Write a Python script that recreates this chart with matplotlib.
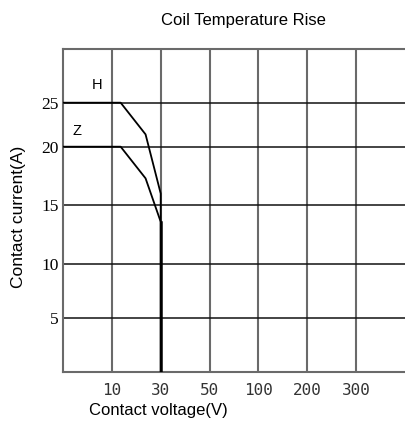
import numpy as np
import matplotlib.pyplot as plt

# contact voltage (V) / contact current (A) curves
h_volt = [0, 13.6, 23.8, 30, 30]
h_curr = [25, 25, 21.4, 16.0, 0]
z_volt = [0, 13.6, 23.8, 30, 30]
z_curr = [20, 20, 17.3, 13.6, 0]

x_ticks = [10, 30, 50, 100, 200, 300]
y_ticks = [5, 10, 15, 20, 25]

# the chart uses uneven axis spacing, so map values through knots
x_knots_v = [0, 10, 30, 50, 100, 200, 300, 400]
x_knots_p = [0, 1, 2, 3, 4, 5, 6, 7]
y_knots_v = [0, 5, 10, 15, 20, 25, 30]
y_knots_p = [0, 53.4, 107.4, 166.4, 225, 269, 322.7]


def fx(v):
    return np.interp(v, x_knots_v, x_knots_p)


def ix(p):
    return np.interp(p, x_knots_p, x_knots_v)


def fy(v):
    return np.interp(v, y_knots_v, y_knots_p)


def iy(p):
    return np.interp(p, y_knots_p, y_knots_v)


fig = plt.figure(figsize=(4.05, 4.30), dpi=100)
ax = fig.add_axes([63 / 405, 58.3 / 430, 1 - 63 / 405, 322.7 / 430])
ax.set_xscale('function', functions=(fx, ix))
ax.set_yscale('function', functions=(fy, iy))
ax.set_xlim(0, 400)
ax.set_ylim(0, 30)

# grid
for v in x_ticks:
    ax.axvline(v, color='#6a6a6a', lw=1.5, zorder=1)
for v in y_ticks:
    ax.axhline(v, color='#111111', lw=1.1, zorder=1)

ax.plot(h_volt, h_curr, color='black', lw=1.3, zorder=3)
ax.plot(z_volt, z_curr, color='black', lw=1.3, zorder=3)
ax.plot([30, 30], [0, 13.6], color='black', lw=1.8, zorder=3)

ax.text(7.0, 26.65, 'H', fontsize=10.5, family='Liberation Sans', ha='center', va='center')
ax.text(2.8, 21.8, 'Z', fontsize=10.5, family='Liberation Sans', ha='center', va='center')

ax.set_xticks(x_ticks)
ax.set_xticklabels([str(t) for t in x_ticks], family='DejaVu Sans Mono', fontsize=11.5,
                   color='#333333')
ax.set_yticks(y_ticks)
ax.set_yticklabels([str(t) for t in y_ticks], family='Liberation Serif', fontsize=12.5)
ax.xaxis.set_minor_locator(plt.NullLocator())
ax.yaxis.set_minor_locator(plt.NullLocator())
ax.tick_params(axis='x', length=0, pad=8)
ax.tick_params(axis='y', length=0, pad=3)

for s in ['left', 'bottom', 'top']:
    ax.spines[s].set_color('#6a6a6a')
    ax.spines[s].set_linewidth(1.5)
ax.spines['right'].set_visible(False)

fig.text(243.5 / 405, 1 - 20 / 430, 'Coil Temperature Rise', family='Liberation Sans',
         fontsize=12, ha='center', va='center')
fig.text(158 / 405, 1 - 411 / 430, 'Contact voltage(V)', family='Liberation Sans',
         fontsize=12, ha='center', va='center')
fig.text(19 / 405, 1 - 217 / 430, 'Contact current(A)', family='Liberation Sans',
         fontsize=12.5, ha='center', va='center', rotation=90)

fig.savefig('out.png', dpi=100)
